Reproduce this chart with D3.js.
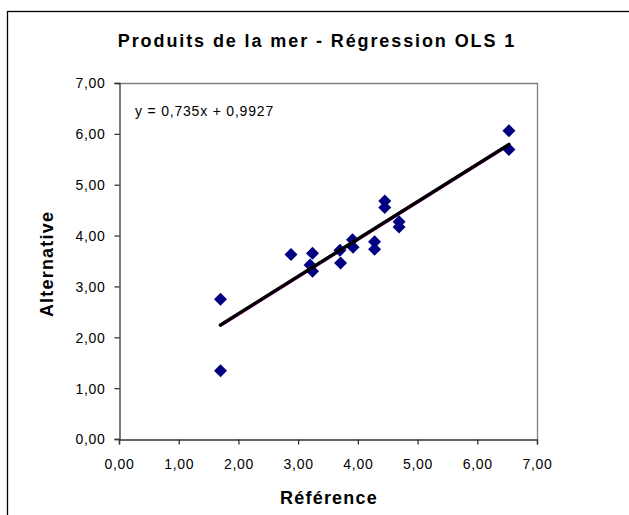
<!DOCTYPE html>
<html>
<head>
<meta charset="utf-8">
<script src="https://cdn.jsdelivr.net/npm/d3@7"></script>
<style>
  body { margin: 0; background: #fff; }
  text { font-family: "Liberation Sans", Arial, sans-serif; }
</style>
</head>
<body>
<div id="chart"></div>
<script>
// DATA
const refValues = [1.70, 1.70, 2.88, 3.24, 3.20, 3.24, 3.70, 3.71, 3.91, 3.92, 4.28, 4.28, 4.45, 4.45, 4.69, 4.69, 6.53, 6.53];
const altValues = [2.75, 1.34, 3.63, 3.65, 3.42, 3.30, 3.71, 3.46, 3.92, 3.77, 3.88, 3.73, 4.68, 4.55, 4.27, 4.17, 6.06, 5.69];
const slope = 0.735;
const intercept = 0.9927;
const tickValues = [0, 1, 2, 3, 4, 5, 6, 7];
const titleText = 'Produits de la mer - Régression OLS 1';
const xLabel = 'Référence';
const yLabel = 'Alternative';

// GLOBALS AND CONSTANTS
const width = 629;
const height = 515;
const plot = { left: 119, right: 537, top: 83, bottom: 439 };
const fmt = v => d3.format('.2f')(v).replace('.', ',');

const svg = d3.select('#chart')
  .append('svg')
  .attr('width', width)
  .attr('height', height);

// OUTER FRAME
svg.append('rect')
  .attr('x', 7.5).attr('y', 11.5)
  .attr('width', width + 20).attr('height', height + 20)
  .attr('fill', '#fff')
  .attr('stroke', '#000')
  .attr('stroke-width', 1.3);

const x = d3.scaleLinear().domain([0, 7]).range([plot.left, plot.right]);
const y = d3.scaleLinear().domain([0, 7]).range([plot.bottom, plot.top]);

// PLOT AREA BORDER (top and right in grey)
svg.append('path')
  .attr('d', `M${plot.left},${plot.top + 0.5}H${plot.right + 0.5}V${plot.bottom}`)
  .attr('fill', 'none')
  .attr('stroke', '#808080')
  .attr('stroke-width', 1.3);

// AXES
const xAxis = svg.append('g')
  .attr('transform', `translate(0,${plot.bottom + 0.5})`)
  .call(d3.axisBottom(x).tickValues(tickValues).tickFormat(fmt).tickSize(5).tickPadding(15));

const yAxis = svg.append('g')
  .attr('transform', `translate(${plot.left + 0.5},0)`)
  .call(d3.axisLeft(y).tickValues(tickValues).tickFormat(fmt).tickSize(5).tickPadding(9));

[xAxis, yAxis].forEach(g => {
  g.select('.domain').attr('stroke', '#333').attr('stroke-width', 1.3);
  g.selectAll('.tick line').attr('stroke', '#333').attr('stroke-width', 1.3);
  g.selectAll('.tick text')
    .attr('fill', '#000')
    .style('font-size', '14px')
    .style('letter-spacing', '0.7px')
    .style('font-family', '"Liberation Sans", Arial, sans-serif');
});
yAxis.selectAll('.tick text').attr('dy', '0.35em');

// FITTED LINE
const xr = d3.extent(refValues);
const fitData = xr.map(v => ({ x: v, y: slope * v + intercept }));
const line = d3.line().x(d => x(d.x)).y(d => y(d.y));

svg.append('path')
  .datum(fitData)
  .attr('d', line)
  .attr('transform', 'translate(0,1.5)')
  .attr('fill', 'none')
  .attr('stroke', '#ff00ff')
  .attr('stroke-width', 1.2);

// POINTS
const points = refValues.map((v, i) => ({ x: v, y: altValues[i] }));
svg.append('g')
  .selectAll('path')
  .data(points)
  .join('path')
  .attr('transform', d => `translate(${x(d.x)},${y(d.y)})`)
  .attr('d', 'M0,-6.5L6.5,0L0,6.5L-6.5,0Z')
  .attr('fill', '#000080');

svg.append('path')
  .datum(fitData)
  .attr('d', line)
  .attr('fill', 'none')
  .attr('stroke', '#000')
  .attr('stroke-width', 3.5)
  .attr('stroke-linecap', 'round');

// EQUATION
svg.append('text')
  .attr('x', 135)
  .attr('y', 116)
  .style('font-size', '14px')
  .style('letter-spacing', '0.8px')
  .text(`y = ${String(slope).replace('.', ',')}x + ${String(intercept).replace('.', ',')}`);

// TITLE AND LABELS
svg.append('text')
  .attr('x', 317)
  .attr('y', 47)
  .attr('text-anchor', 'middle')
  .style('font-size', '18px')
  .style('font-weight', 'bold')
  .style('letter-spacing', '1.9px')
  .text(titleText);

svg.append('text')
  .attr('x', 329)
  .attr('y', 504)
  .attr('text-anchor', 'middle')
  .style('font-size', '18px')
  .style('font-weight', 'bold')
  .style('letter-spacing', '1.2px')
  .text(xLabel);

svg.append('text')
  .attr('transform', 'translate(53,264) rotate(-90)')
  .attr('text-anchor', 'middle')
  .style('font-size', '18px')
  .style('font-weight', 'bold')
  .style('letter-spacing', '1.2px')
  .text(yLabel);
</script>
</body>
</html>
